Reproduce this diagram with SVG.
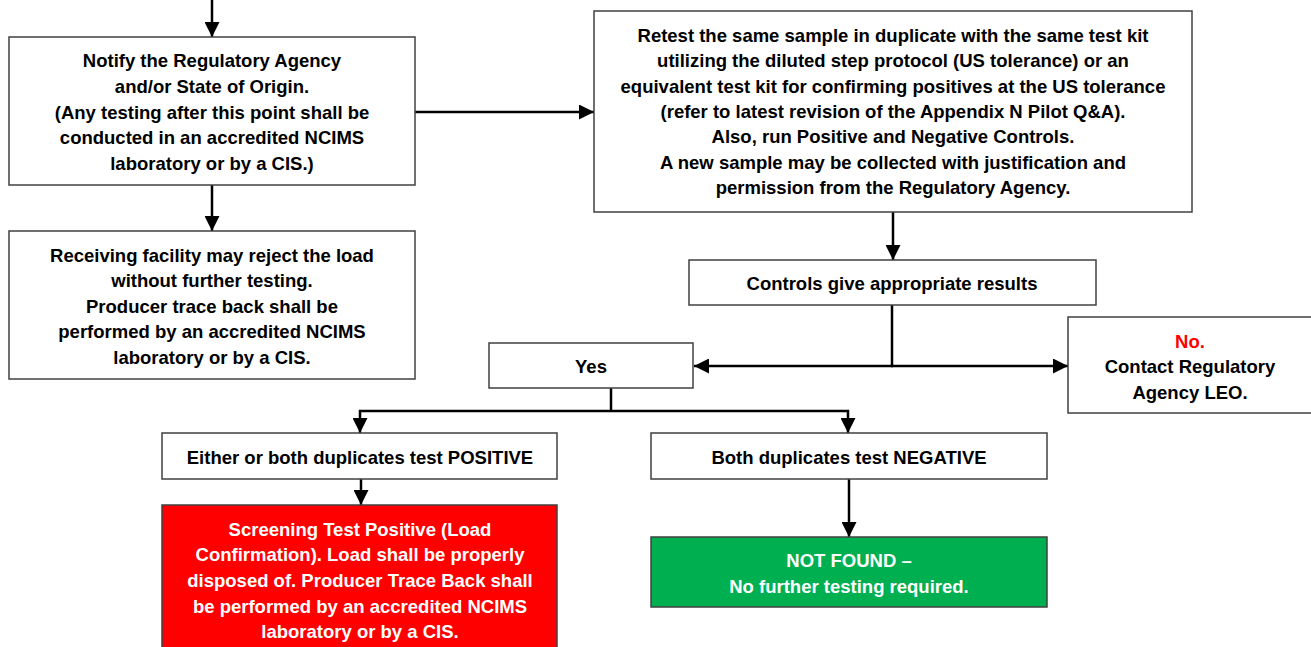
<svg xmlns="http://www.w3.org/2000/svg" width="1311" height="647" viewBox="0 0 1311 647">
<style>
.box{fill:#fff;stroke:#404040;stroke-width:1.5}
.red{fill:#FF0000;stroke:#404040;stroke-width:1.5}
.green{fill:#00B050;stroke:#404040;stroke-width:1.5}
text{font-family:"Liberation Sans",Arial,sans-serif;font-weight:bold;font-size:18.5px;text-anchor:middle;fill:#000}
.w{fill:#fff}
.r{fill:#FF0000}
.c{fill:none;stroke:#000;stroke-width:2.5}
</style>
<defs>
<marker id="ah" markerUnits="userSpaceOnUse" markerWidth="15" markerHeight="15" refX="15" refY="7.5" orient="auto">
<path d="M0,0 L15,7.5 L0,15 z" fill="#000"/>
</marker>
</defs>
<g id="connectors">
<line class="c" x1="212" y1="0" x2="212" y2="37" marker-end="url(#ah)"/>
<line class="c" x1="415" y1="112" x2="594" y2="112" marker-end="url(#ah)"/>
<line class="c" x1="212" y1="185" x2="212" y2="231" marker-end="url(#ah)"/>
<line class="c" x1="893" y1="212" x2="893" y2="260" marker-end="url(#ah)"/>
<line class="c" x1="892" y1="305" x2="892" y2="366"/>
<line class="c" x1="893" y1="366" x2="694" y2="366" marker-end="url(#ah)"/>
<line class="c" x1="891" y1="366" x2="1068" y2="366" marker-end="url(#ah)"/>
<line class="c" x1="611" y1="388" x2="611" y2="411"/>
<polyline class="c" points="611,411 360,411 360,433" marker-end="url(#ah)"/>
<polyline class="c" points="611,411 848,411 848,433" marker-end="url(#ah)"/>
<line class="c" x1="361" y1="479" x2="361" y2="505" marker-end="url(#ah)"/>
<line class="c" x1="849" y1="479" x2="849" y2="537" marker-end="url(#ah)"/>
</g>
<g id="notify">
<rect class="box" x="9" y="37" width="406" height="148"/>
<text x="212" y="67">Notify the Regulatory Agency</text>
<text x="212" y="93">and/or State of Origin.</text>
<text x="212" y="119">(Any testing after this point shall be</text>
<text x="212" y="144">conducted in an accredited NCIMS</text>
<text x="212" y="170">laboratory or by a CIS.)</text>
</g>
<g id="receiving">
<rect class="box" x="9" y="231" width="406" height="148"/>
<text x="212" y="262">Receiving facility may reject the load</text>
<text x="212" y="287">without further testing.</text>
<text x="212" y="313">Producer trace back shall be</text>
<text x="212" y="338">performed by an accredited NCIMS</text>
<text x="212" y="364">laboratory or by a CIS.</text>
</g>
<g id="retest">
<rect class="box" x="594" y="11" width="598" height="201"/>
<text x="893" y="42">Retest the same sample in duplicate with the same test kit</text>
<text x="893" y="67">utilizing the diluted step protocol (US tolerance) or an</text>
<text x="893" y="93">equivalent test kit for confirming positives at the US tolerance</text>
<text x="893" y="118">(refer to latest revision of the Appendix N Pilot Q&amp;A).</text>
<text x="893" y="143">Also, run Positive and Negative Controls.</text>
<text x="893" y="169">A new sample may be collected with justification and</text>
<text x="893" y="194">permission from the Regulatory Agency.</text>
</g>
<g id="controls">
<rect class="box" x="689" y="260" width="407" height="45"/>
<text x="892" y="290">Controls give appropriate results</text>
</g>
<g id="yes">
<rect class="box" x="489" y="343" width="204" height="45"/>
<text x="591" y="373">Yes</text>
</g>
<g id="no">
<rect class="box" x="1068" y="317" width="250" height="96"/>
<text class="r" x="1190" y="348">No.</text>
<text x="1190" y="373">Contact Regulatory</text>
<text x="1190" y="399">Agency LEO.</text>
</g>
<g id="positive">
<rect class="box" x="162" y="433" width="395" height="46"/>
<text x="360" y="464">Either or both duplicates test POSITIVE</text>
</g>
<g id="negative">
<rect class="box" x="651" y="433" width="396" height="46"/>
<text x="849" y="464">Both duplicates test NEGATIVE</text>
</g>
<g id="screening">
<rect class="red" x="162" y="505" width="395" height="160"/>
<text class="w" x="360" y="536">Screening Test Positive (Load</text>
<text class="w" x="360" y="561">Confirmation). Load shall be properly</text>
<text class="w" x="360" y="587">disposed of. Producer Trace Back shall</text>
<text class="w" x="360" y="613">be performed by an accredited NCIMS</text>
<text class="w" x="360" y="638">laboratory or by a CIS.</text>
</g>
<g id="notfound">
<rect class="green" x="651" y="537" width="396" height="70"/>
<text class="w" x="849" y="567">NOT FOUND –</text>
<text class="w" x="849" y="593">No further testing required.</text>
</g>
</svg>
